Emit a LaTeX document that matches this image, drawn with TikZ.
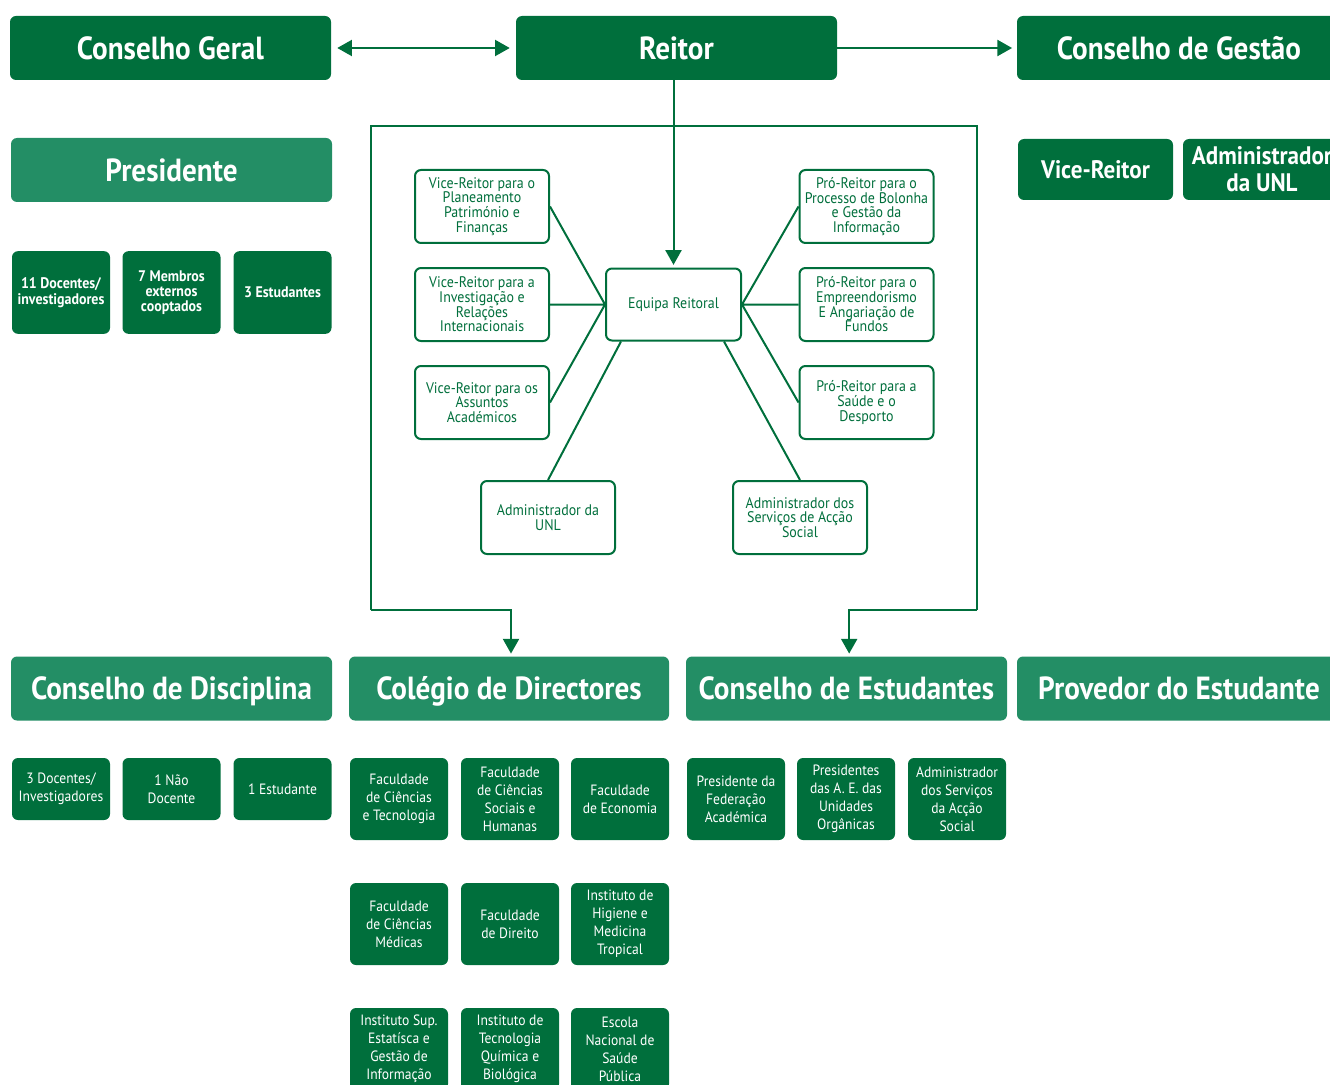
\documentclass[tikz,border=0pt]{standalone}
\usepackage{fontspec}
\setmainfont{PT Sans}[FakeStretch=0.91]
\usetikzlibrary{arrows.meta,calc}
\definecolor{UnlDark}{RGB}{0,111,60}
\definecolor{UnlLight}{RGB}{35,142,101}
\tikzset{unltip/.tip={Triangle[length=11pt,width=12pt]}}

\begin{document}
\begin{tikzpicture}[x=0.75pt,y=-0.75pt,
  box/.style={fill=UnlDark,rounded corners=4.5pt,inner sep=0pt,text=white,align=center},
  head/.style={box,minimum width=240.75pt,minimum height=48pt,text height=16.8pt,text depth=0pt,font=\fontsize{24}{26}\selectfont\bfseries},
  headlight/.style={head,fill=UnlLight},
  member/.style={box,minimum width=73.5pt,minimum height=62pt,font=\fontsize{11.5}{11.5}\selectfont\bfseries},
  unit/.style={box,minimum width=73.5pt,minimum height=61.5pt,font=\fontsize{11.2}{13.5}\selectfont},
  office/.style={draw=UnlDark,line width=1.5pt,rounded corners=4.5pt,fill=white,inner sep=0pt,minimum width=100.5pt,minimum height=54.75pt,text=UnlDark,align=center,font=\fontsize{11.5}{11}\selectfont},
  link/.style={UnlDark,line width=1.5pt},
  arr/.style={link,-unltip}]
\useasboundingbox (0,0) rectangle (1330,1084);
\clip (0,0) rectangle (1330,1084);

\node[head] (cg) at (170.5,48) {Conselho Geral};
\node[head] (reitor) at (676.5,48) {Reitor};
\node[head,minimum width=243pt] (cgest) at (1179,48) {Conselho de Gestão};

\node[headlight] (pres) at (171.5,170) {Presidente};
\node[member] (m1) at (61,292.5) {11 Docentes/\\investigadores};
\node[member] (m2) at (171.5,292.5) {7 Membros\\externos\\cooptados};
\node[member] (m3) at (282.5,292.5) {3 Estudantes};

\node[box,minimum width=116.25pt,minimum height=45.75pt,font=\fontsize{19}{21}\selectfont\bfseries] (vr) at (1095.5,169.5) {Vice-Reitor};
\node[box,minimum width=118.5pt,minimum height=45.75pt,font=\fontsize{19}{20.5}\selectfont\bfseries] (adm) at (1262,169.5) {Administrador\\da UNL};

\coordinate (tl) at (371,126);
\coordinate (tr) at (977,126);
\coordinate (bl) at (371,610);
\coordinate (br) at (977,610);
\draw[link] (bl) -- (tl) -- (tr) -- (br);

\node[office,minimum width=101.25pt,minimum height=54pt] (eq) at (673.5,304.5) {Equipa Reitoral};
\node[office] (vr1) at (482,206.5) {Vice-Reitor para o\\Planeamento\\Património e\\Finanças};
\node[office] (vr2) at (482,304.5) {Vice-Reitor para a\\Investigação e\\Relações\\Internacionais};
\node[office] (vr3) at (482,402.5) {Vice-Reitor para os\\Assuntos\\Académicos};
\node[office] (pr1) at (866.5,206.5) {Pró-Reitor para o\\Processo de Bolonha\\e Gestão da\\Informação};
\node[office] (pr2) at (866.5,304.5) {Pró-Reitor para o\\Empreendorismo\\E Angariação de\\Fundos};
\node[office] (pr3) at (866.5,402.5) {Pró-Reitor para a\\Saúde e o\\Desporto};
\node[office] (aunl) at (548,517.5) {Administrador da\\UNL};
\node[office] (asas) at (800,517.5) {Administrador dos\\Serviços de Acção\\Social};

\draw[link] (vr1.east) -- (eq.west) (vr2.east) -- (eq.west) (vr3.east) -- (eq.west);
\draw[link] (pr1.west) -- (eq.east) (pr2.west) -- (eq.east) (pr3.west) -- (eq.east);
\draw[link] ([xshift=12pt]eq.south west) -- (aunl.north);
\draw[link] ([xshift=-13.5pt]eq.south east) -- (asas.north);

\draw[link,unltip-unltip,shorten <=4.5pt,shorten >=4.5pt] (cg.east) -- (reitor.west);
\draw[arr,shorten >=3.5pt] (reitor.east) -- (cgest.west);
\draw[arr,shorten >=2pt] (reitor.south -| eq.north) -- (eq.north);

\node[headlight] (cd) at (171.5,688.5) {Conselho de Disciplina};
\node[headlight,minimum width=240pt] (col) at (509,688.5) {Colégio de Directores};
\node[headlight] (ce) at (846.5,688.5) {Conselho de Estudantes};
\node[headlight,minimum width=243pt] (prov) at (1179,688.5) {Provedor do Estudante};

\draw[arr,shorten >=2pt] (bl) -| ([xshift=1.5pt]col.north);
\draw[arr,shorten >=2pt] (br) -| ([xshift=2pt]ce.north);

\node[unit,minimum height=46.5pt] (d1) at (61,789) {3 Docentes/\\Investigadores};
\node[unit,minimum height=46.5pt] (d2) at (171.5,789) {1 Não\\Docente};
\node[unit,minimum height=46.5pt] (d3) at (282.5,789) {1 Estudante};

\node[unit] (f1) at (399,799) {Faculdade\\de Ciências\\e Tecnologia};
\node[unit] (f2) at (510,799) {Faculdade\\de Ciências\\Sociais e\\Humanas};
\node[unit] (f3) at (620,799) {Faculdade\\de Economia};
\node[unit] (f4) at (399,924) {Faculdade\\de Ciências\\Médicas};
\node[unit] (f5) at (510,924) {Faculdade\\de Direito};
\node[unit] (f6) at (620,924) {Instituto de\\Higiene e\\Medicina\\Tropical};
\node[unit] (f7) at (399,1049) {Instituto Sup.\\Estatísca e\\Gestão de\\Informação};
\node[unit] (f8) at (510,1049) {Instituto de\\Tecnologia\\Química e\\Biológica};
\node[unit] (f9) at (620,1049) {Escola\\Nacional de\\Saúde\\Pública};

\node[unit] (e1) at (736,799) {Presidente da\\Federação\\Académica};
\node[unit] (e2) at (846,799) {Presidentes\\das A. E. das\\Unidades\\Orgânicas};
\node[unit] (e3) at (957,799) {Administrador\\dos Serviços\\da Acção\\Social};

\end{tikzpicture}
\end{document}
